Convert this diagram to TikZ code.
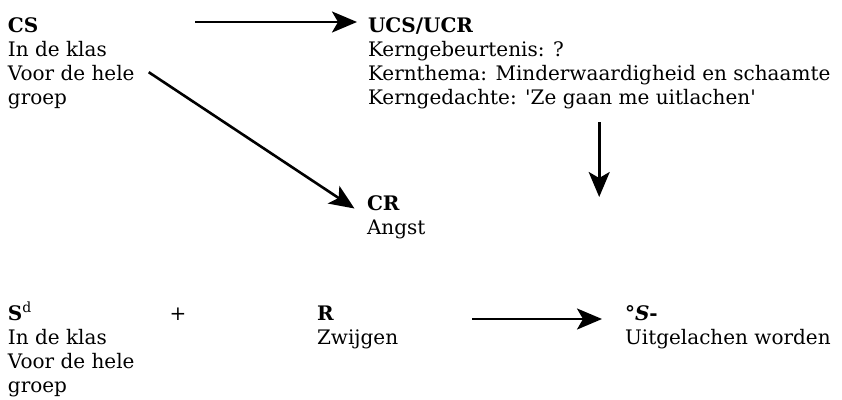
\documentclass[tikz,border=0pt]{standalone}
\usepackage{fontspec}
\setmainfont{DejaVu Serif}[Ligatures=TeXOff]
\usetikzlibrary{arrows.meta}
% a left-aligned stack of lines whose baseline is that of its first line
\newcommand\blocklines[1]{\vtop{\halign{##\hfil\cr#1\crcr}}}
\begin{document}
\begin{tikzpicture}[x=1pt,y=-1pt,
  block/.style={anchor=base west, inner sep=0pt, outer sep=0pt,
    font=\fontsize{20}{24}\selectfont},
  arr/.style={line width=2.6pt,
    -{Stealth[length=25pt,width=21pt,inset=6pt]}}]
\useasboundingbox (0,0) rectangle (842,399);

% upper row
\node[block] (cs) at (8,32)
  {\blocklines{\textbf{CS}\cr In de klas\cr Voor de hele\cr groep}};
\node[block] (ucs) at (368,32)
  {\blocklines{\textbf{UCS/UCR}\cr Kerngebeurtenis: ?\cr
   Kernthema: Minderwaardigheid en schaamte\cr
   Kerngedachte: 'Ze gaan me uitlachen'}};
\node[block] (cr) at (367,210)
  {\blocklines{\textbf{CR}\cr Angst}};

% lower row
\node[block] (sd) at (8,320)
  {\blocklines{\textbf{S}\textsuperscript{d}\cr In de klas\cr Voor de hele\cr groep}};
\node[block, anchor=base] (plus) at (178,320) {+};
\node[block] (r) at (317,320)
  {\blocklines{\textbf{R}\cr Zwijgen}};
\node[block] (s) at (625,320)
  {\blocklines{\textbf{°\textit{S}-}\cr Uitgelachen worden}};

\coordinate (down) at (ucs.south |- 0,197);

% connectors
\draw[arr, shorten <=187pt, shorten >=11pt]
  ([yshift=10pt]cs.base west) -- ([yshift=10pt]cs.base west -| ucs.west);
\draw[arr, shorten <=17pt, shorten >=15pt] (cs.east) -- (cr.west);
\draw[arr, shorten <=14pt] (ucs.south) -- (down);
\draw[arr, shorten <=155pt, shorten >=23pt]
  ([yshift=1pt]r.base west) -- ([yshift=1pt]r.base west -| s.west);
\end{tikzpicture}
\end{document}
